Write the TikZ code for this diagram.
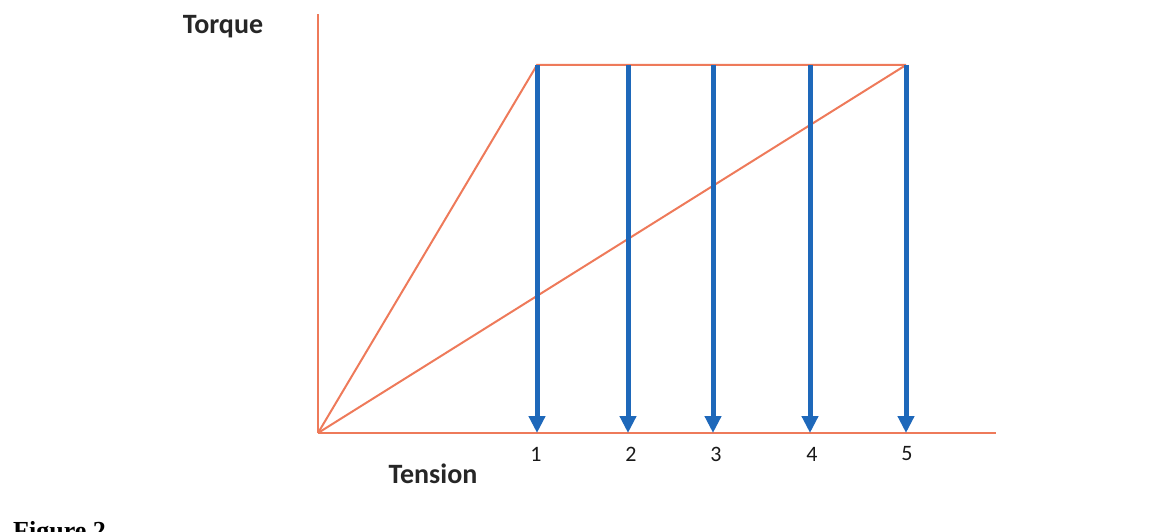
\documentclass[tikz,border=0pt]{standalone}
\usepackage{fontspec}
\setmainfont{Carlito}
\newfontfamily\captionfont{Liberation Serif}
\usetikzlibrary{arrows.meta}

\definecolor{curveorange}{RGB}{238,122,90}
\definecolor{arrowblue}{RGB}{30,104,186}

\begin{document}
\begin{tikzpicture}[
  x=1pt, y=-1pt,
  every node/.style={align=center},
  axis/.style={curveorange, line width=2.6pt},
  curve/.style={curveorange, line width=2pt},
  drop/.style={arrowblue, line width=5pt,
               -{Triangle[length=17pt, width=16pt]}},
  ticklabel/.style={yshift=-21pt, inner sep=0pt,
                    font=\fontsize{22}{22}\selectfont, text=black!90},
  axislabel/.style={inner sep=0pt, font=\fontsize{28}{28}\selectfont\bfseries,
                    text=black!85},
]
\useasboundingbox (0,0) rectangle (1164,532);
\clip (0,0) rectangle (1164,532);

% --- axes ---
\coordinate (O) at (318,433);
\coordinate (ytop) at (318,14);
\coordinate (xend) at (996,433);
\draw[axis] (O) -- (ytop);
\draw[axis] (O) -- (xend);

% --- points on the top line and on the axis ---
\coordinate (t1) at (537,65);
\coordinate (t2) at (628,65);
\coordinate (t3) at (713,65);
\coordinate (t4) at (810,65);
\coordinate (t5) at (906,65);
\coordinate (b1) at (537,433);
\coordinate (b2) at (628,433);
\coordinate (b3) at (713,433);
\coordinate (b4) at (810,433);
\coordinate (b5) at (906,433);

% --- orange lines ---
\draw[curve] (O) -- (t1) -- (t5);
\draw[curve] (O) -- (t5);

% --- blue arrows ---
\draw[drop] (t1) -- (b1);
\draw[drop] (t2) -- (b2);
\draw[drop] (t3) -- (b3);
\draw[drop] (t4) -- (b4);
\draw[drop] (t5) -- (b5);

% --- labels ---
\node[ticklabel] (n1) at ([xshift=-1pt]b1) {1};
\node[ticklabel] (n2) at ([xshift=3pt]b2) {2};
\node[ticklabel] (n3) at ([xshift=3pt]b3) {3};
\node[ticklabel] (n4) at ([xshift=2pt]b4) {4};
\node[ticklabel] (n5) at ([xshift=1pt]b5) {5};

\node[axislabel] (torque) at (223,27) {Torque};
\node[axislabel] (tension) at (433,474) {Tension};

\node[anchor=north west, inner sep=0pt,
      font=\captionfont\fontsize{26}{26}\selectfont\bfseries]
  (caption) at (13,521) {Figure 2};

\end{tikzpicture}
\end{document}
